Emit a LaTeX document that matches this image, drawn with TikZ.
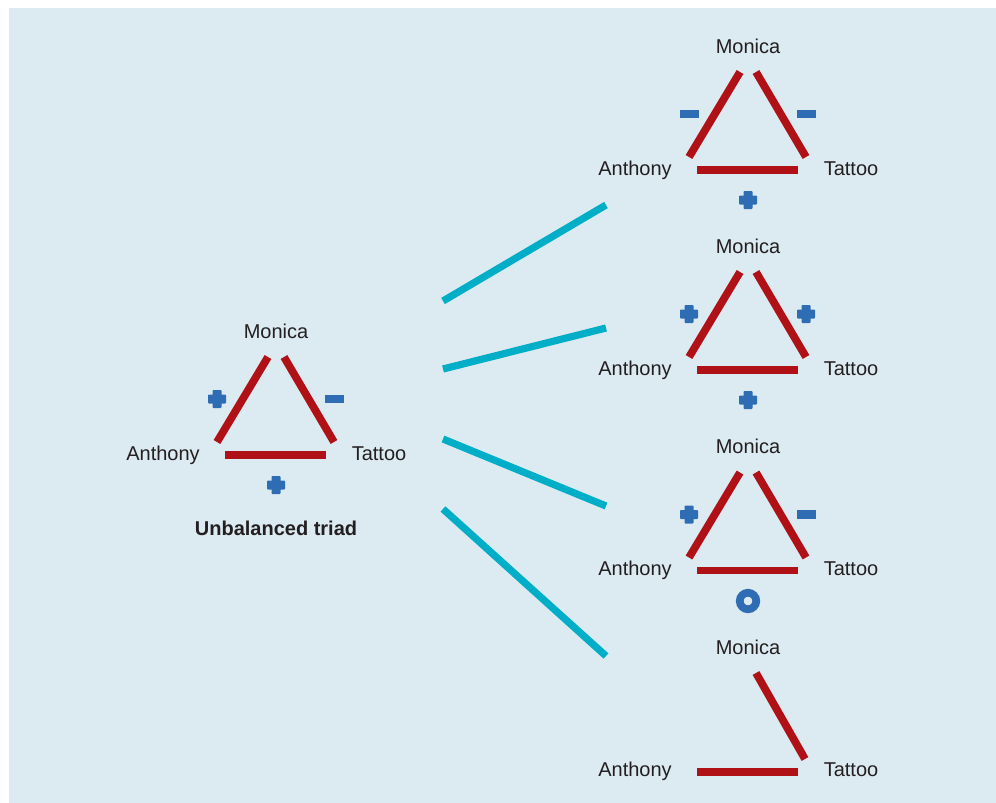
\documentclass[tikz,border=0pt]{standalone}
\usepackage{fontspec}
\setmainfont{Liberation Sans}
\definecolor{bgblue}{HTML}{DCEAF1}
\definecolor{edgered}{HTML}{B01117}
\definecolor{signblue}{HTML}{2E6DB4}
\definecolor{linkteal}{HTML}{00AEC7}
\definecolor{txtgray}{HTML}{231F20}
\tikzset{
  edge/.style={edgered,line width=5.8pt},
  link/.style={linkteal,line width=5.4pt},
  person/.style={text=txtgray,anchor=base,inner sep=0pt,font=\fontsize{15}{18}\selectfont},
  pics/possign/.style={code={\fill[signblue,rounded corners=0.6pt] (-9,-4.5) rectangle (9,4.5);
    \fill[signblue,rounded corners=0.6pt] (-4.5,-9) rectangle (4.5,9);}},
  pics/negsign/.style={code={\fill[signblue] (-9.5,-4.2) rectangle (9.5,4.2);}},
  pics/zerosign/.style={code={\draw[signblue,line width=5.8pt] (0,0) circle (6.2pt);}}
}

\begin{document}
\begin{tikzpicture}[x=0.75pt,y=-0.75pt]
  % page and panel
  \useasboundingbox (0,0) rectangle (996,803);
  \fill[white] (0,0) rectangle (996,803);
  \fill[bgblue] (9,8) rectangle (996,803);
  % full triads: labels and the three edges
  \foreach \n/\cx/\cy in {m/276/331, a/748/46, b/748/246, c/748/446.5} {
    \begin{scope}[shift={(\cx,\cy)}]
      \node[person] (mon\n) at (0,7) {Monica};
      \node[person] (ant\n) at (-113,129) {Anthony};
      \node[person] (tat\n) at (103,129) {Tattoo};
      \draw[edge] (-8,26) -- (-59,111);
      \draw[edge] (8,26) -- (58,111);
      \draw[edge] (-51,124) -- (50,124);
    \end{scope}
  }
  \node[person,font=\fontsize{15}{18}\selectfont\bfseries] (unbal) at (276,535) {Unbalanced triad};
  % signs of the unbalanced triad
  \pic at (217,399) {possign};
  \pic at (334,399) {negsign};
  \pic at (276,485) {possign};
  % signs of the first three outcomes
  \pic at (689,114) {negsign};
  \pic at (806,114) {negsign};
  \pic at (748,200) {possign};
  \pic at (689,314) {possign};
  \pic at (806,314) {possign};
  \pic at (748,400) {possign};
  \pic at (689,514.5) {possign};
  \pic at (806,514.5) {negsign};
  \pic at (748,601) {zerosign};
  % last outcome: one tie dropped
  \begin{scope}[shift={(748,647)}]
    \node[person] (mond) at (0,7) {Monica};
    \node[person] (antd) at (-113,129) {Anthony};
    \node[person] (tatd) at (103,129) {Tattoo};
    \draw[edge] (8,26) -- (57,112);
    \draw[edge] (-51,125) -- (50,125);
  \end{scope}
  % links from the triad to its outcomes
  \foreach \i/\ys/\ye in {1/301/205, 2/369/328, 3/439/506, 4/509/656} {
    \coordinate (from\i) at (443,\ys);
    \coordinate (to\i) at (606,\ye);
    \draw[link] (from\i) -- (to\i);
  }
\end{tikzpicture}
\end{document}
